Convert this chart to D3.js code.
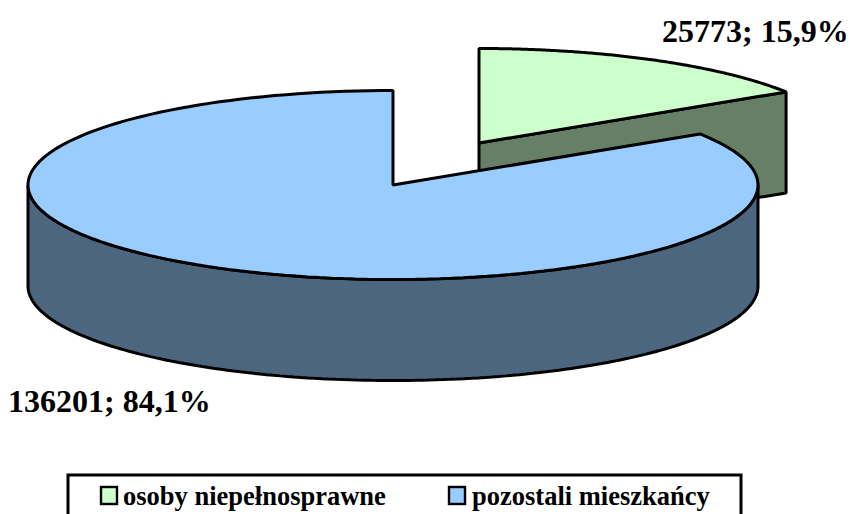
<!DOCTYPE html>
<html><head><meta charset="utf-8">
<script src="https://cdn.jsdelivr.net/npm/d3@7"></script>
<style>html,body{margin:0;padding:0;background:#fff}svg{display:block}
text{font-family:"Liberation Serif",serif;font-weight:bold;fill:#000}</style></head>
<body><svg id="c" width="850" height="514"></svg>
<script>
const categories = ["osoby niepełnosprawne", "pozostali mieszkańcy"];
const values = [25773, 136201];
const labels = ["25773; 15,9%", "136201; 84,1%"];
const topColors = ["#CCFFCC", "#99CCFF"];
const sideColors = ["#667F66", "#4D6680"];

const W = 850, H = 514;
const svg = d3.select("#c");
const rx = 365, ry = 94.5, depth = 101;
const centers = [[479, 143], [393, 185]];
const strokeW = 3;

const pie = d3.pie().sort(null).value(d => d);
const arcs = pie(values);
const pt = (c, a) => [c[0] + rx * Math.sin(a), c[1] - ry * Math.cos(a)];
const rScale = d3.scaleLinear().domain([0, d3.sum(values)]).range([0, 2 * Math.PI]);

function ellipseArc(c, a0, a1) {
  const n = 160, out = [];
  for (let i = 0; i <= n; i++) out.push(pt(c, a0 + (a1 - a0) * i / n));
  return out;
}
const line = d3.line();
const style = s => s.attr("stroke", "#000").attr("stroke-width", strokeW).attr("stroke-linejoin", "bevel");

{
  const c = centers[0], a = arcs[0];
  const tip = pt(c, rScale(values[0]));
  const poly = [c, tip, [tip[0], tip[1] + depth], [c[0], c[1] + depth]];
  style(svg.append("path").attr("d", line(poly) + "Z").attr("fill", sideColors[0]));
  const top = [c, ...ellipseArc(c, a.startAngle, a.endAngle)];
  style(svg.append("path").attr("d", line(top) + "Z").attr("fill", topColors[0]));
}
{
  const c = centers[1], a = arcs[1];
  const front = ellipseArc(c, Math.PI / 2, 3 * Math.PI / 2);
  const low = front.map(p => [p[0], p[1] + depth]).reverse();
  style(svg.append("path").attr("d", line([...front, ...low]) + "Z").attr("fill", sideColors[1]));
  const top = [c, ...ellipseArc(c, a.startAngle, a.endAngle)];
  style(svg.append("path").attr("d", line(top) + "Z").attr("fill", topColors[1]));
}

svg.append("text").attr("x", 662).attr("y", 42).attr("font-size", 32).text(labels[0]);
svg.append("text").attr("x", 8).attr("y", 412).attr("font-size", 32).text(labels[1]);

svg.append("rect").attr("x", 68).attr("y", 475).attr("width", 673).attr("height", 60)
  .attr("fill", "#fff").attr("stroke", "#000").attr("stroke-width", 3);
const legX = [101, 449], legTextX = [123, 472];
categories.forEach((t, i) => {
  svg.append("rect").attr("x", legX[i]).attr("y", 487).attr("width", 16).attr("height", 17)
    .attr("fill", topColors[i]).attr("stroke", "#000").attr("stroke-width", 2.4);
  svg.append("text").attr("x", legTextX[i]).attr("y", 505).attr("font-size", 26.5).text(t);
});
</script></body></html>
